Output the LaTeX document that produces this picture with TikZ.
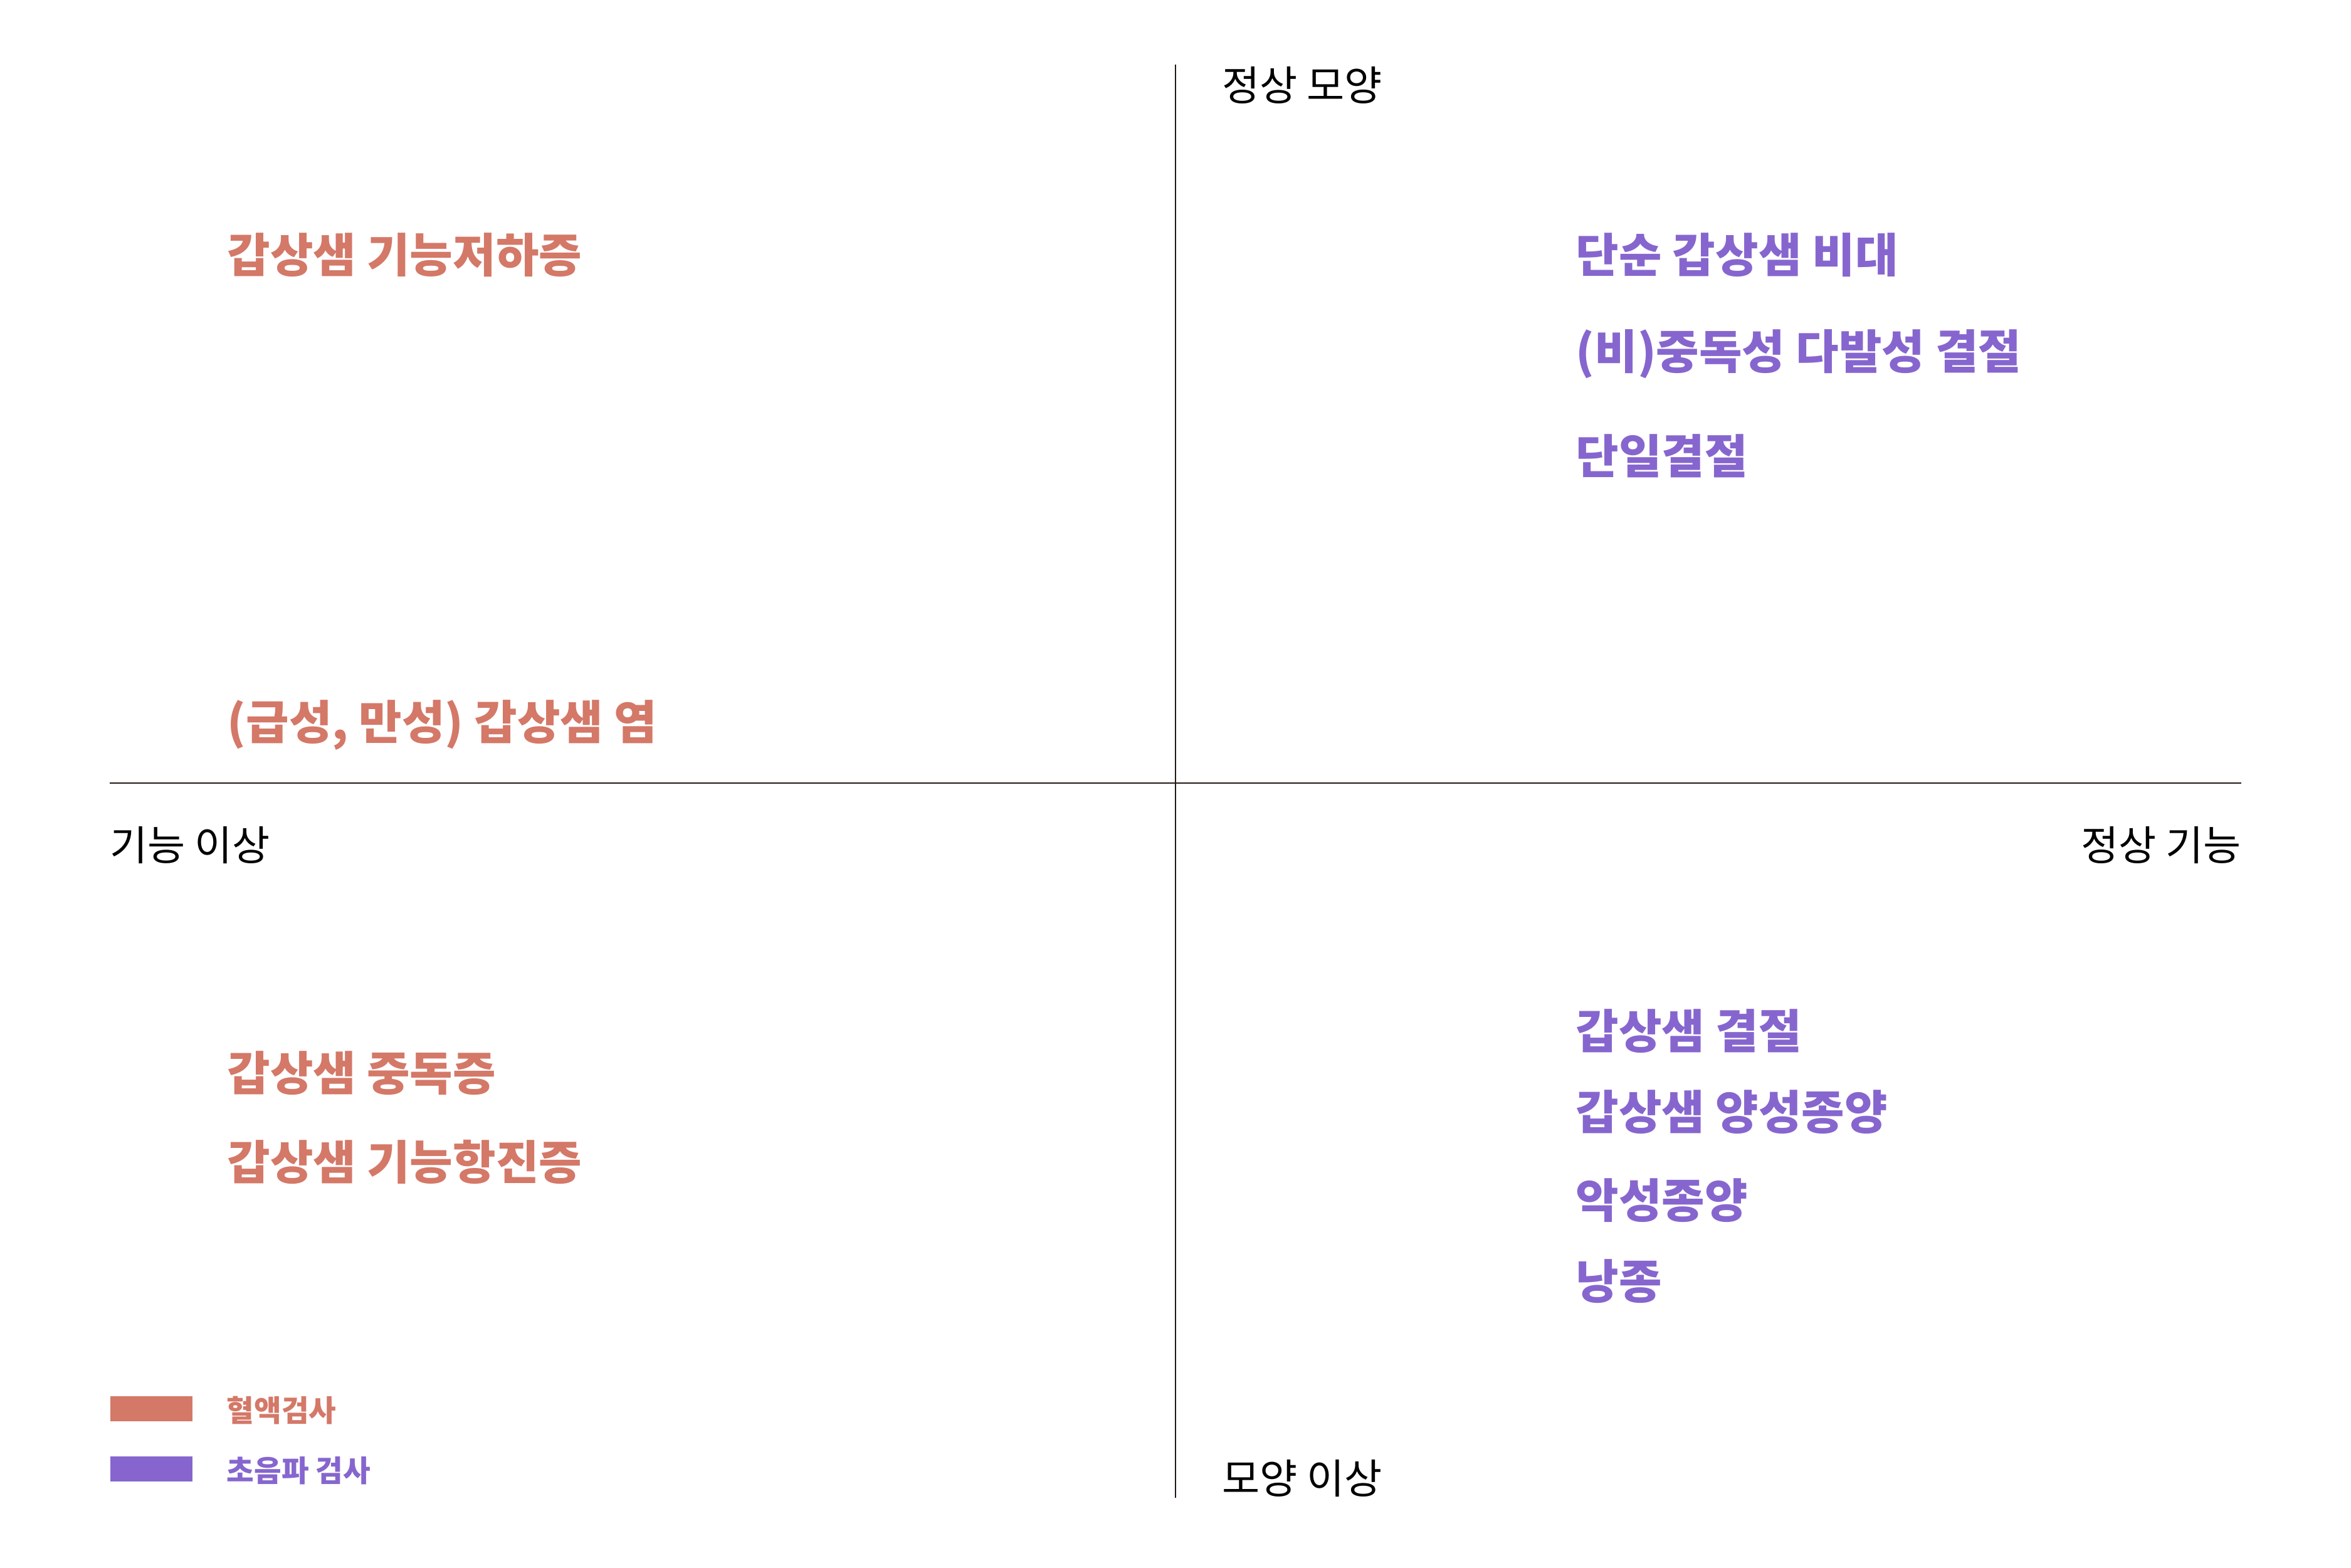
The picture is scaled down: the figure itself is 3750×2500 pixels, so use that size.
\documentclass[tikz,border=0pt]{standalone}
\usepackage{fontspec}
\setmainfont{Noto Sans CJK KR}
\usepackage{tikz}
\usetikzlibrary{positioning}
\definecolor{blut}{RGB}{212,120,104}
\definecolor{schall}{RGB}{134,102,206}
\definecolor{achse}{RGB}{35,24,21}

\begin{document}
\begin{tikzpicture}[x=0.1mm, y=-0.1mm,
	achsentext/.style={font=\fontsize{18.6}{22}\selectfont, inner sep=0pt, anchor=west},
	befund/.style={font=\fontsize{21.2}{25}\selectfont\bfseries, inner sep=0pt, anchor=west},
	legende/.style={font=\fontsize{13.5}{16}\selectfont\bfseries, inner sep=0pt, anchor=west},
	balken/.style={draw=none, minimum width=13.1mm, minimum height=4mm, inner sep=0pt, anchor=west}]

	\useasboundingbox (0,0) rectangle (3750,2500);

	% Achsen
	\coordinate (O) at (1875,103);
	\coordinate (U) at (1875,2389);
	\coordinate (L) at (175,1249);
	\coordinate (R) at (3575,1249);
	\draw[achse, line width=0.7pt] (O) -- (U);
	\draw[achse, line width=0.7pt] (L) -- (R);

	\node[achsentext] (A1) at (1949,136) {정상 모양};
	\node[achsentext] (A2) at (175,1348) {기능 이상};
	\node[achsentext, anchor=east] (A3) at (3575,1348) {정상 기능};
	\node[achsentext] (A4) at (1949,2358) {모양 이상};

	% Blutuntersuchung
	\node[befund, blut] (B1) at (362,407) {갑상샘 기능저하증};
	\node[befund, blut] (B2) at (362,1156) {(급성, 만성) 갑상샘 염};
	\node[befund, blut] (B3) at (362,1712) {갑상샘 중독증};
	\node[befund, blut] (B4) at (362,1853) {갑상샘 기능항진증};

	% Ultraschall
	\node[befund, schall] (S1) at (2513,407) {단순 갑상샘 비대};
	\node[befund, schall] (S2) at (2513,565) {(비)중독성 다발성 결절};
	\node[befund, schall] (S3) at (2513,727) {단일결절};
	\node[befund, schall] (S4) at (2513,1645) {갑상샘 결절};
	\node[befund, schall] (S5) at (2513,1774) {갑상샘 양성종양};
	\node[befund, schall] (S6) at (2513,1915) {악성종양};
	\node[befund, schall] (S7) at (2513,2044) {낭종};

	% Legende
	\node[balken, fill=blut] (L1) at (175,2247) {};
	\node[balken, fill=schall] (L2) at (175,2343) {};
	\node[legende, blut] (T1) at (361,2250) {혈액검사};
	\node[legende, schall] (T2) at (361,2346) {초음파 검사};

\end{tikzpicture}
\end{document}
